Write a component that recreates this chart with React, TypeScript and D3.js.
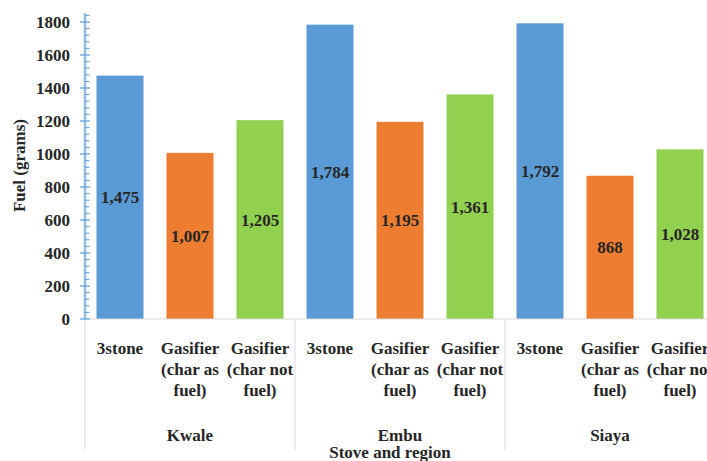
import React from "react";
import * as d3 from "d3";

const regions = ["Kwale", "Embu", "Siaya"];
const stoves = ["3stone", "Gasifier (char as fuel)", "Gasifier (char not fuel)"];
const stoveLines = [["3stone"], ["Gasifier", "(char as", "fuel)"], ["Gasifier", "(char not", "fuel)"]];
const kwaleValues = [1475, 1007, 1205];
const embuValues = [1784, 1195, 1361];
const siayaValues = [1792, 868, 1028];
const yTicks = [0, 200, 400, 600, 800, 1000, 1200, 1400, 1600, 1800];
const colors = ["#5b9bd5", "#ed7d31", "#92d050"];

const W = 707, H = 461;

export default function App() {
  const values = [kwaleValues, embuValues, siayaValues];
  const x0 = 85, groupW = 210;
  const xRegion = d3.scaleBand<string>().domain(regions).range([x0, x0 + groupW * 3]).padding(0);
  const xStove = d3.scaleBand<string>().domain(stoves).range([0, groupW]).paddingInner(23 / 70).paddingOuter(11.5 / 70);
  const y = d3.scaleLinear().domain([0, 1800]).range([319, 22]);
  const minor = d3.range(0, 1841, 40).filter((v) => v % 200 !== 0);
  const bandStep = groupW / 3;

  return (
    <svg width={W} height={H} style={{ position: "absolute", left: 0, top: 0, background: "#fff" }}>
      <style>{`.t { font-family: "Liberation Serif", "Times New Roman", serif; font-size: 17px; font-weight: bold; fill: #262626; }`}</style>
      {regions.map((r, ri) =>
        stoves.map((s, si) => {
          const v = values[ri][si];
          const bx = (xRegion(r) as number) + (xStove(s) as number);
          const bw = xStove.bandwidth();
          return (
            <g key={r + s}>
              <rect x={bx} y={y(v)} width={bw} height={y(0) - y(v)} fill={colors[si]} />
              <text className="t" x={bx + bw / 2} y={(y(v) + y(0)) / 2 + 6} textAnchor="middle">
                {d3.format(",")(v)}
              </text>
            </g>
          );
        })
      )}
      <line x1={x0} x2={W} y1={y(0)} y2={y(0)} stroke="#d9d9d9" strokeWidth={1.2} />
      {[0, 1, 2].map((i) => (
        <line key={i} x1={x0 + i * groupW} x2={x0 + i * groupW} y1={y(0)} y2={450} stroke="#d9d9d9" strokeWidth={1} />
      ))}
      {regions.map((r, ri) =>
        stoves.map((s, si) => {
          const cx = (xRegion(r) as number) + si * bandStep + bandStep / 2;
          return (
            <text className="t" key={r + s + "l"} x={cx} textAnchor="middle">
              {stoveLines[si].map((ln, li) => (
                <tspan key={li} x={cx} y={354 + li * 21}>{ln}</tspan>
              ))}
            </text>
          );
        })
      )}
      {regions.map((r) => (
        <text className="t" key={r} x={(xRegion(r) as number) + groupW / 2} y={441} textAnchor="middle">{r}</text>
      ))}
      <text className="t" x={x0 + groupW * 1.5 - 10} y={458} textAnchor="middle">Stove and region</text>
      <line x1={x0} x2={x0} y1={y(0)} y2={13} stroke="#bdd7ee" strokeWidth={3} />
      <line x1={x0} x2={x0} y1={y(0)} y2={13} stroke="#5b9bd5" strokeWidth={0.8} />
      {minor.map((v) => (
        <line key={v} x1={x0} x2={x0 + 4.5} y1={y(v)} y2={y(v)} stroke="#5b9bd5" strokeWidth={1} />
      ))}
      {yTicks.map((t) => (
        <g key={t}>
          <line x1={x0 - 5} x2={x0 + 5} y1={y(t)} y2={y(t)} stroke="#5b9bd5" strokeWidth={1.2} />
          <text className="t" x={70} y={y(t) + 6} textAnchor="end">{t}</text>
        </g>
      ))}
      <text className="t" transform={`translate(25, ${y(930)}) rotate(-90)`} textAnchor="middle">Fuel (grams)</text>
    </svg>
  );
}
